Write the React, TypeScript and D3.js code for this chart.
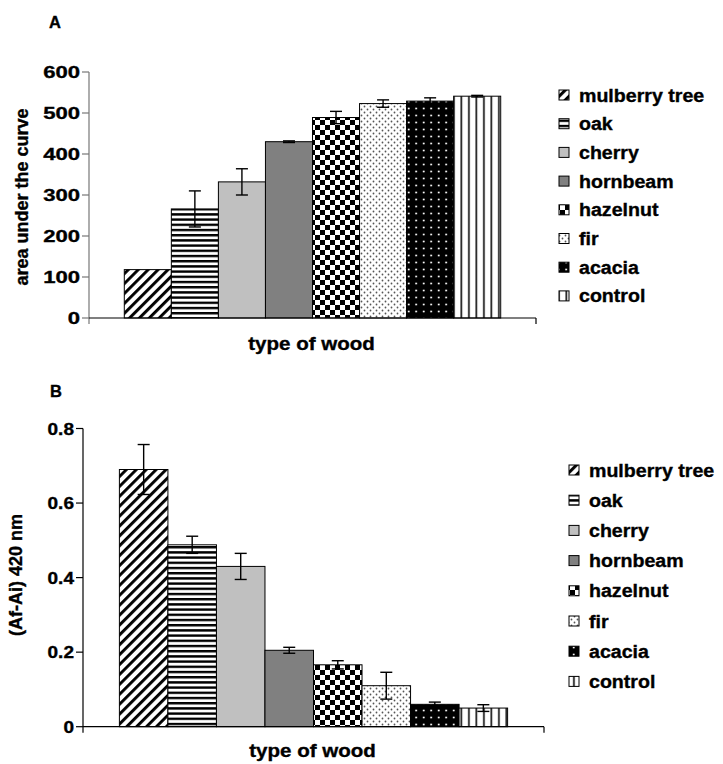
import React from "react";
import * as d3 from "d3";

const woods = ["mulberry tree", "oak", "cherry", "hornbeam", "hazelnut", "fir", "acacia", "control"];
const fills = ["url(#pDiag)", "url(#pHoriz)", "#c0c0c0", "#808080", "url(#pCheck)", "url(#pFir)", "url(#pAcacia)", "url(#pVert)"];

const aucValues = [118, 266, 332, 430, 489, 523, 529, 541];
const aucErrors = [0, 44, 32, 2, 15, 9, 8, 2];
const aucTicks = [0, 100, 200, 300, 400, 500, 600];

const absValues = [0.69, 0.488, 0.43, 0.205, 0.166, 0.11, 0.06, 0.05];
const absErrors = [0.067, 0.023, 0.035, 0.008, 0.011, 0.036, 0.006, 0.009];
const absTicks = [0, 0.2, 0.4, 0.6, 0.8];

const FONT = "'Liberation Sans', Arial, sans-serif";

type PanelProps = {
  label: string;
  yTitle: string;
  values: number[];
  errors: number[];
  ticks: number[];
  tickFmt: (v: number) => string;
  left: number;
  right: number;
  top: number;
  bottom: number;
  yMax: number;
  tickSx: number;
  labelPos: [number, number];
  yTitlePos: [number, number];
  xTitleY: number;
  legendX: number;
  legendY: number;
  legendStep: number;
  yAxisColor: string;
};

function Panel(p: PanelProps) {
  const y = d3.scaleLinear().domain([0, p.yMax]).range([p.bottom, p.top]);
  const x = d3.scaleBand<string>().domain(woods).range([p.left, p.right]).paddingInner(0).paddingOuter(0.75);
  const bw = x.bandwidth();
  const cap = 6;
  const ts = { stroke: "#000", strokeWidth: 0.35 };
  return (
    <g fontFamily={FONT} fontWeight="bold">
      <text x={p.labelPos[0]} y={p.labelPos[1]} fontSize={16.5} {...ts}>{p.label}</text>
      {woods.map((w, i) => (
        <rect key={w} x={x(w)} y={y(p.values[i])} width={bw} height={p.bottom - y(p.values[i])}
          fill={fills[i]} stroke="#000" strokeWidth={1} />
      ))}
      {woods.map((w, i) => {
        if (!p.errors[i]) return null;
        const cx = (x(w) as number) + bw / 2;
        const y1 = y(p.values[i] + p.errors[i]);
        const y2 = y(p.values[i] - p.errors[i]);
        return (
          <g key={w} stroke="#000" strokeWidth={1.4}>
            <line x1={cx} x2={cx} y1={y1} y2={y2} />
            <line x1={cx - cap} x2={cx + cap} y1={y1} y2={y1} />
            <line x1={cx - cap} x2={cx + cap} y1={y2} y2={y2} />
          </g>
        );
      })}
      <line x1={p.left} x2={p.left} y1={p.top} y2={p.bottom + 6} stroke={p.yAxisColor} strokeWidth={1.2} />
      {p.ticks.map((t) => (
        <g key={t}>
          <line x1={p.left - 7} x2={p.left} y1={y(t)} y2={y(t)} stroke={p.yAxisColor} strokeWidth={1.2} />
          <text transform={`translate(${p.left - 9},${y(t) + 6}) scale(${p.tickSx},1)`} fontSize={17} textAnchor="end" {...ts}>
            {p.tickFmt(t)}
          </text>
        </g>
      ))}
      <line x1={p.left} x2={p.right} y1={p.bottom} y2={p.bottom} stroke="#000" strokeWidth={1.2} />
      <line x1={p.right} x2={p.right} y1={p.bottom} y2={p.bottom + 6} stroke="#000" strokeWidth={1.2} />
      <text transform={`translate(${(p.left + p.right) / 2 - 1},${p.xTitleY}) scale(1.14,1)`} fontSize={18} textAnchor="middle" {...ts}>
        type of wood
      </text>
      <text transform={`translate(${p.yTitlePos[0]},${p.yTitlePos[1]}) rotate(-90)`} fontSize={18} textAnchor="middle" {...ts}>
        {p.yTitle}
      </text>
      {woods.map((w, i) => {
        const ly = p.legendY + i * p.legendStep;
        return (
          <g key={w}>
            <rect x={p.legendX} y={ly - 5} width={10} height={10} fill={fills[i]} stroke="#000" strokeWidth={1} />
            <text transform={`translate(${p.legendX + 20},${ly + 6.5}) scale(1.12,1)`} fontSize={17.5} {...ts}>{w}</text>
          </g>
        );
      })}
    </g>
  );
}

export default function App() {
  return (
    <svg width={723} height={764} style={{ position: "absolute", left: 0, top: 0, background: "#fff" }}>
      <defs>
        <pattern id="pDiag" patternUnits="userSpaceOnUse" width={7} height={7} patternTransform="rotate(45)">
          <rect width={7} height={7} fill="#fff" />
          <rect x={0} y={0} width={2.9} height={7} fill="#000" />
        </pattern>
        <pattern id="pHoriz" patternUnits="userSpaceOnUse" width={6} height={5.2}>
          <rect width={6} height={5.2} fill="#fff" />
          <rect x={0} y={0} width={6} height={2.4} fill="#000" />
        </pattern>
        <pattern id="pCheck" patternUnits="userSpaceOnUse" width={10} height={10}>
          <rect width={10} height={10} fill="#fff" />
          <rect x={0} y={0} width={5} height={5} fill="#000" />
          <rect x={5} y={5} width={5} height={5} fill="#000" />
        </pattern>
        <pattern id="pFir" patternUnits="userSpaceOnUse" width={6} height={6}>
          <rect width={6} height={6} fill="#fff" />
          <circle cx={1.5} cy={1.5} r={0.9} fill="#555" />
          <circle cx={4.5} cy={4.5} r={0.9} fill="#555" />
        </pattern>
        <pattern id="pAcacia" patternUnits="userSpaceOnUse" width={7.5} height={7}>
          <rect width={7.5} height={7} fill="#000" />
          <circle cx={3.7} cy={3.5} r={1} fill="#fff" />
        </pattern>
        <pattern id="pVert" patternUnits="userSpaceOnUse" width={7.5} height={6}>
          <rect width={7.5} height={6} fill="#fff" />
          <rect x={3} y={0} width={1.8} height={6} fill="#222" />
        </pattern>
      </defs>
      <Panel
        label="A"
        yTitle="area under the curve"
        values={aucValues}
        errors={aucErrors}
        ticks={aucTicks}
        tickFmt={(v) => String(v)}
        left={89}
        right={536}
        top={72}
        bottom={318}
        yMax={600}
        tickSx={1.3}
        labelPos={[49, 28]}
        yTitlePos={[28, 197]}
        xTitleY={350}
        legendX={559}
        legendY={95}
        legendStep={28.7}
        yAxisColor="#777"
      />
      <Panel
        label="B"
        yTitle="(Af-Ai) 420 nm"
        values={absValues}
        errors={absErrors}
        ticks={absTicks}
        tickFmt={(v) => (v === 0 ? "0" : d3.format(".1f")(v))}
        left={83}
        right={544}
        top={428.5}
        bottom={726.7}
        yMax={0.8}
        tickSx={1.12}
        labelPos={[50, 397]}
        yTitlePos={[22, 575]}
        xTitleY={757}
        legendX={569}
        legendY={470}
        legendStep={30.2}
        yAxisColor="#000"
      />
    </svg>
  );
}
